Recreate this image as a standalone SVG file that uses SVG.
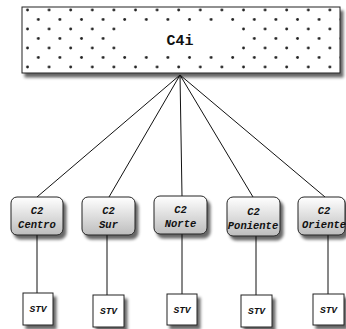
<svg xmlns="http://www.w3.org/2000/svg" width="346" height="329" viewBox="0 0 346 329">
<defs>
<pattern id="dots" x="22" y="7" width="21.6" height="19" patternUnits="userSpaceOnUse">
<circle cx="5.5" cy="3" r="1.4" fill="#222"/>
<circle cx="16.3" cy="12.5" r="1.4" fill="#222"/>
</pattern>
<linearGradient id="g2" x1="0" y1="0" x2="0" y2="1">
<stop offset="0" stop-color="#ffffff"/>
<stop offset="1" stop-color="#bdbdbd"/>
</linearGradient>
<filter id="sh" x="-20%" y="-20%" width="150%" height="150%">
<feGaussianBlur in="SourceAlpha" stdDeviation="1.6"/>
<feOffset dx="3" dy="4" result="b"/>
<feComponentTransfer><feFuncA type="linear" slope="0.6"/></feComponentTransfer>
<feMerge><feMergeNode/><feMergeNode in="SourceGraphic"/></feMerge>
</filter>
</defs>
<style>
.c2 rect{fill:url(#g2);stroke:#222;stroke-width:1}
.stv rect{fill:#fff;stroke:#222;stroke-width:1}
text{font-family:"Courier New",Courier,"Liberation Mono",monospace;font-weight:bold;fill:#111;text-anchor:middle}
.c2 text,.stv text{font-style:italic;font-size:10.5px}
.stv text{font-size:9.5px}
#conn line{stroke:#111;stroke-width:1}
</style>
<g id="c4i">
<rect x="22" y="7" width="318" height="66" fill="#fff" stroke="#222" stroke-width="1" filter="url(#sh)"/>
<rect x="22.5" y="7.5" width="317" height="65" fill="url(#dots)"/>
<rect x="118" y="27" width="124" height="23" rx="4" fill="#fff"/>
<text x="180" y="45" font-size="15">C4i</text>
</g>
<g id="conn">
<line x1="180" y1="75" x2="37" y2="197"/>
<line x1="180" y1="75" x2="109" y2="197"/>
<line x1="180" y1="75" x2="182" y2="196"/>
<line x1="180" y1="75" x2="253" y2="197"/>
<line x1="180" y1="75" x2="325" y2="197"/>
<line x1="37" y1="235" x2="37" y2="293"/>
<line x1="107" y1="235" x2="107" y2="295"/>
<line x1="182" y1="234" x2="182" y2="294"/>
<line x1="256" y1="236" x2="256" y2="295"/>
<line x1="328" y1="235" x2="328" y2="294"/>
</g>
<g id="c2centro" class="c2"><rect x="11" y="197" width="52" height="38" rx="6" filter="url(#sh)"/><text x="37" y="214">C2</text><text x="37" y="228">Centro</text></g>
<g id="c2sur" class="c2"><rect x="82" y="197" width="53" height="38" rx="6" filter="url(#sh)"/><text x="108.5" y="214">C2</text><text x="108.5" y="228">Sur</text></g>
<g id="c2norte" class="c2"><rect x="154" y="196" width="53" height="38" rx="6" filter="url(#sh)"/><text x="180.5" y="213">C2</text><text x="180.5" y="227">Norte</text></g>
<g id="c2poniente" class="c2"><rect x="227" y="197" width="53" height="39" rx="6" filter="url(#sh)"/><text x="253.5" y="215">C2</text><text x="253" y="229">Poniente</text></g>
<g id="c2oriente" class="c2"><rect x="298" y="197" width="47" height="38" rx="6" filter="url(#sh)"/><text x="324" y="214">C2</text><text x="324" y="228">Oriente</text></g>
<g id="stv1" class="stv"><rect x="23" y="293" width="30" height="32" filter="url(#sh)"/><text x="38" y="312">STV</text></g>
<g id="stv2" class="stv"><rect x="93" y="295" width="31" height="32" filter="url(#sh)"/><text x="108.5" y="314">STV</text></g>
<g id="stv3" class="stv"><rect x="167" y="294" width="30" height="31" filter="url(#sh)"/><text x="182" y="313">STV</text></g>
<g id="stv4" class="stv"><rect x="241" y="295" width="31" height="32" filter="url(#sh)"/><text x="256.5" y="314">STV</text></g>
<g id="stv5" class="stv"><rect x="313" y="294" width="31" height="31" filter="url(#sh)"/><text x="328.5" y="313">STV</text></g>
</svg>
